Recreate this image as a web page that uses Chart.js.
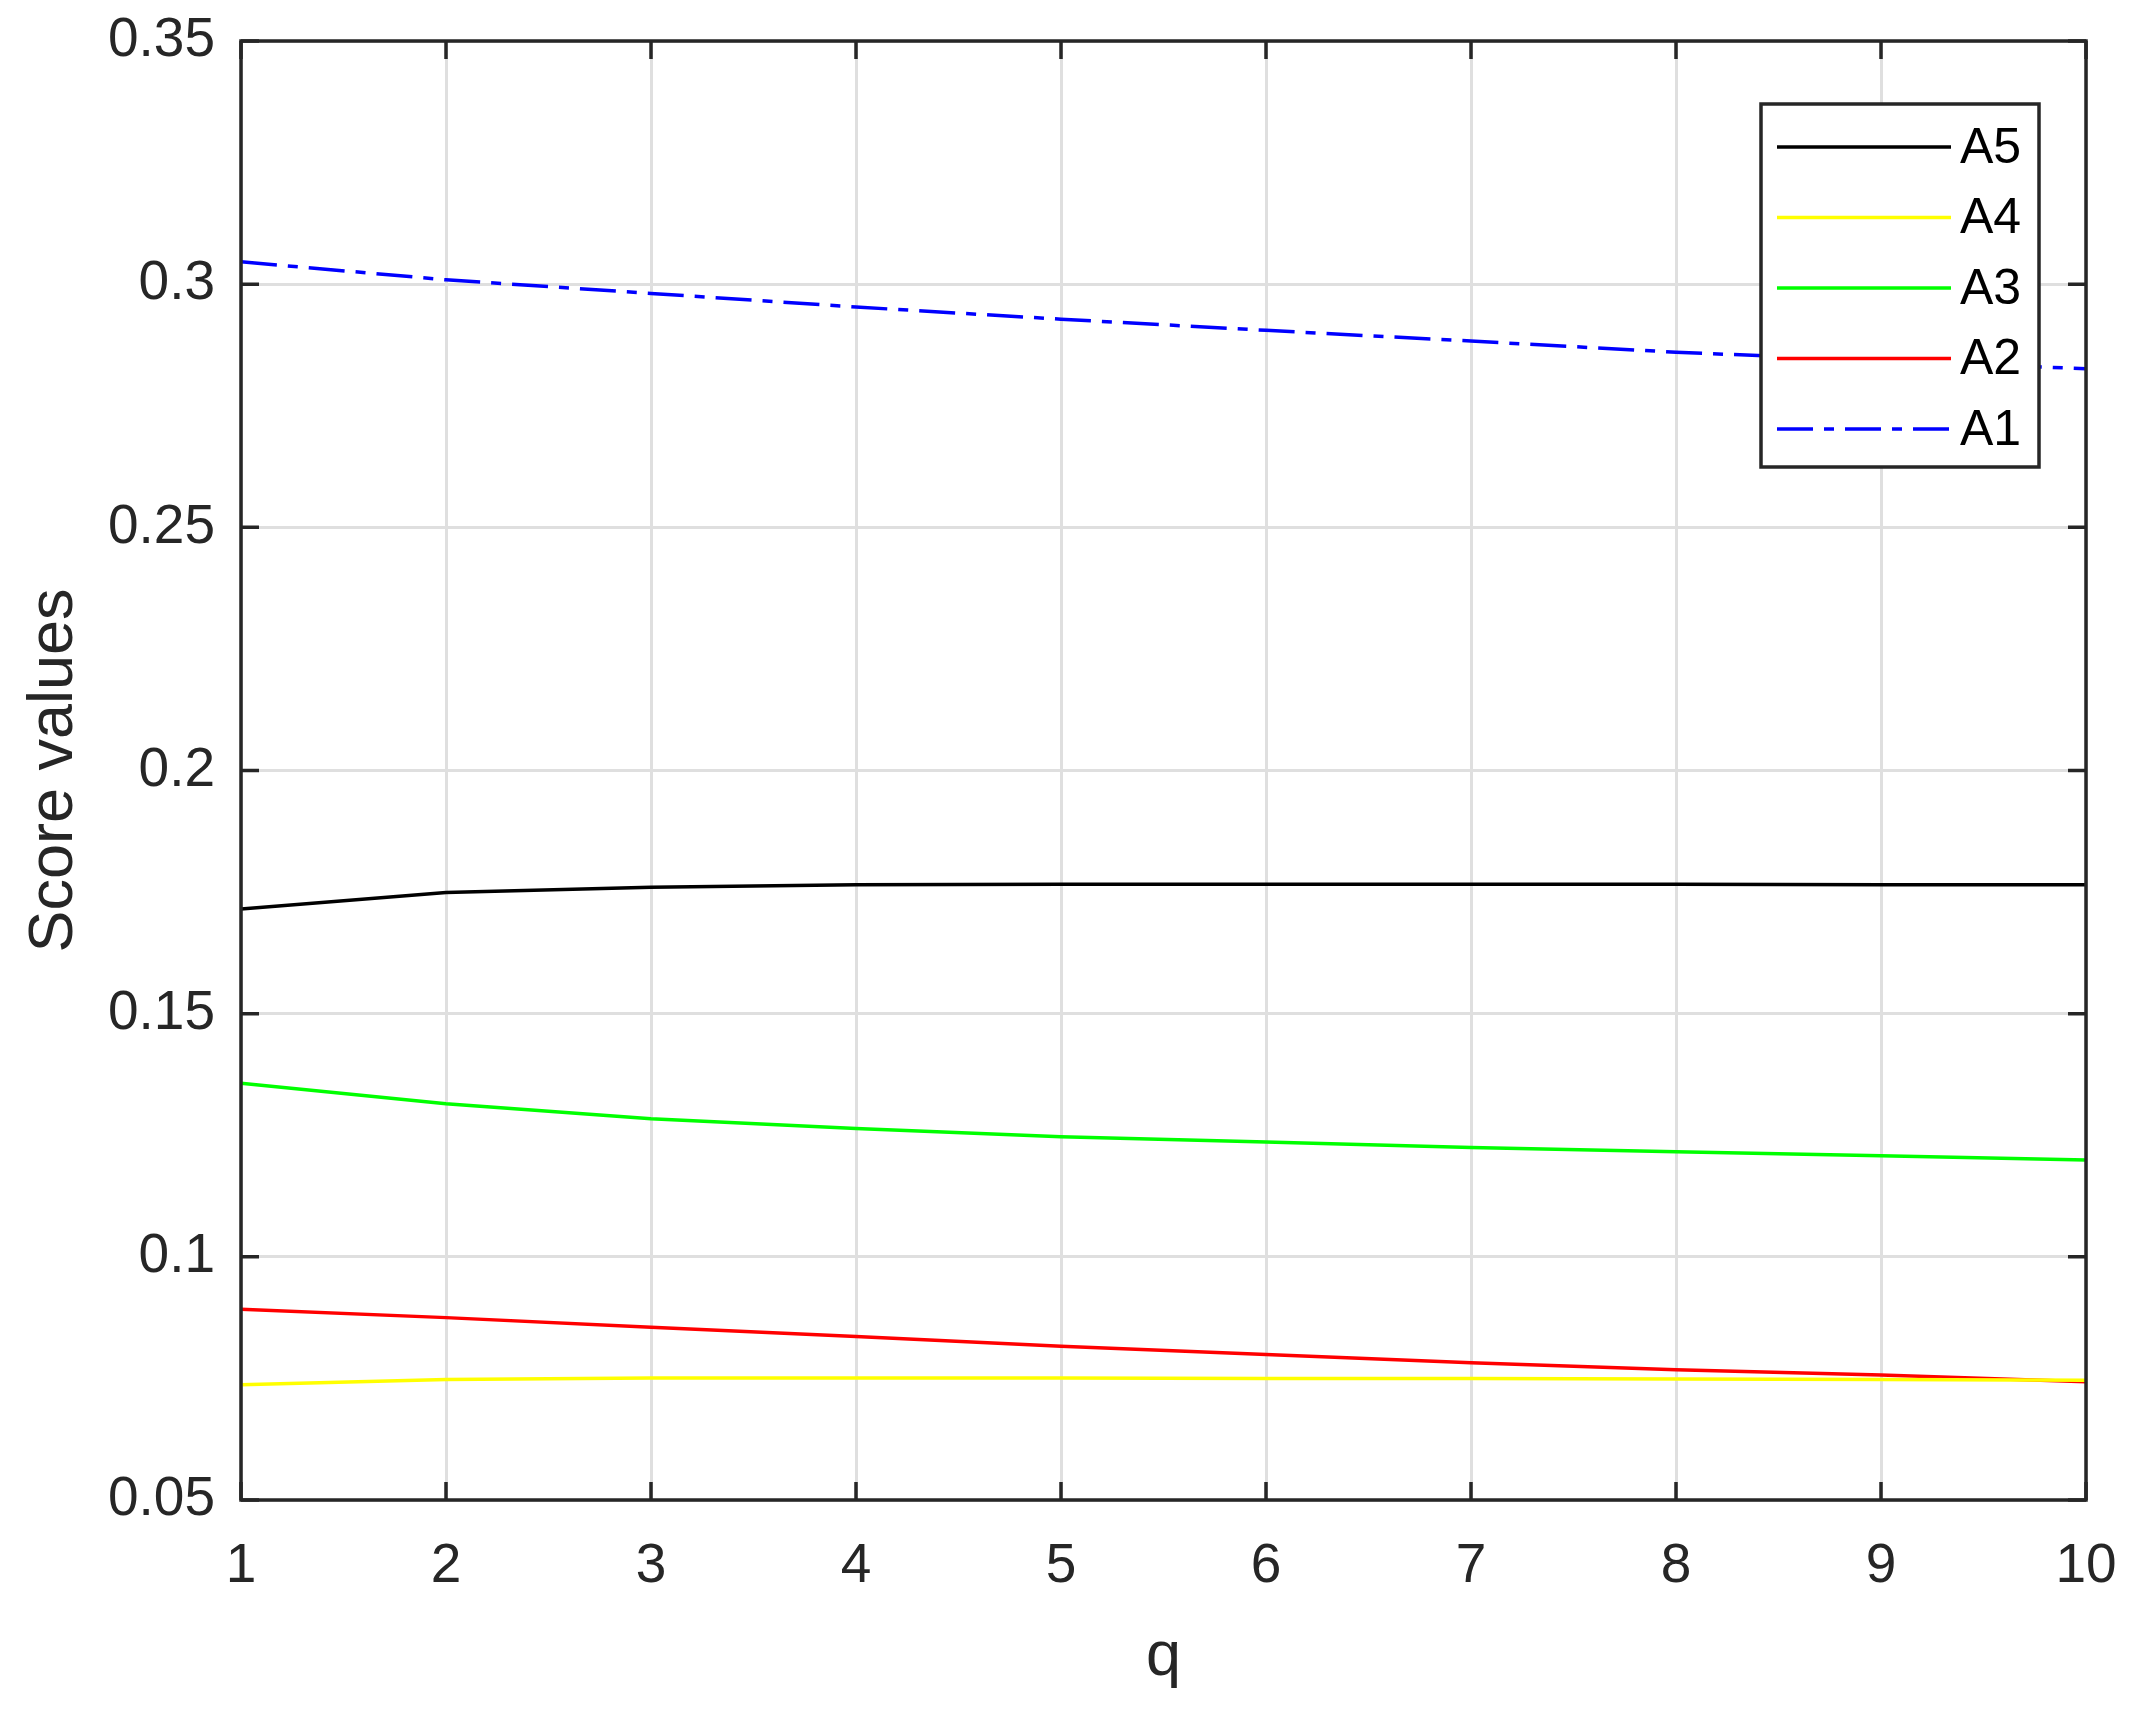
<!DOCTYPE html>
<html><head><meta charset="utf-8">
<script src="https://cdn.jsdelivr.net/npm/chart.js@4.4.1/dist/chart.umd.min.js"></script>
<style>html,body{margin:0;padding:0;background:#fff;} #wrap{width:2150px;height:1710px;}</style>
</head><body><div id="wrap"><canvas id="c" width="2150" height="1710"></canvas></div>
<script>
const qValues = [1, 2, 3, 4, 5, 6, 7, 8, 9, 10];
const seriesA5 = [0.1715, 0.1749, 0.1760, 0.1765, 0.1766, 0.1766, 0.1766, 0.1766, 0.1765, 0.1765];
const seriesA4 = [0.0737, 0.0748, 0.0751, 0.0751, 0.0751, 0.0750, 0.0750, 0.0749, 0.0748, 0.0746];
const seriesA3 = [0.1357, 0.1315, 0.1284, 0.1264, 0.1247, 0.1236, 0.1225, 0.1216, 0.1208, 0.1199];
const seriesA2 = [0.0892, 0.0875, 0.0855, 0.0836, 0.0816, 0.0799, 0.0782, 0.0768, 0.0757, 0.0743];
const seriesA1 = [0.3046, 0.3009, 0.2981, 0.2953, 0.2928, 0.2905, 0.2883, 0.2860, 0.2843, 0.2826];
const seriesNames = ['A5', 'A4', 'A3', 'A2', 'A1'];
const yTickValues = [0.05, 0.1, 0.15, 0.2, 0.25, 0.3, 0.35];
const xTickValues = [1, 2, 3, 4, 5, 6, 7, 8, 9, 10];
const xTitle = 'q';
const yTitle = 'Score values';

const FONT = "'Liberation Sans', Arial, Helvetica, sans-serif";
const AX = '#262626';
const toPts = arr => arr.map((v, i) => ({x: qValues[i], y: v}));

const styles = {
  A5: {color: '#000000', dash: []},
  A4: {color: '#ffff00', dash: []},
  A3: {color: '#00ff00', dash: []},
  A2: {color: '#ff0000', dash: []},
  A1: {color: '#0000ff', dash: [36, 11, 10, 11]}
};
const seriesData = {A5: seriesA5, A4: seriesA4, A3: seriesA3, A2: seriesA2, A1: seriesA1};

const datasets = seriesNames.map(n => ({
  label: n,
  data: toPts(seriesData[n]),
  borderColor: styles[n].color,
  backgroundColor: styles[n].color,
  borderDash: styles[n].dash,
  borderWidth: 3.5,
  pointRadius: 0,
  tension: 0,
  fill: false
}));

const boxPlugin = {
  id: 'matlabBox',
  afterDatasetsDraw(chart) {
    const {ctx, chartArea: a, scales: {x, y}} = chart;
    ctx.save();
    ctx.strokeStyle = AX;
    ctx.lineWidth = 3.5;
    ctx.setLineDash([]);
    ctx.beginPath();
    const tl = 18;
    x.ticks.forEach(t => {
      const px = x.getPixelForValue(t.value);
      ctx.moveTo(px, a.bottom); ctx.lineTo(px, a.bottom - tl);
      ctx.moveTo(px, a.top); ctx.lineTo(px, a.top + tl);
    });
    y.ticks.forEach(t => {
      const py = y.getPixelForValue(t.value);
      ctx.moveTo(a.left, py); ctx.lineTo(a.left + tl, py);
      ctx.moveTo(a.right, py); ctx.lineTo(a.right - tl, py);
    });
    ctx.stroke();
    ctx.strokeRect(a.left, a.top, a.right - a.left, a.bottom - a.top);

    // legend box (inside the axes, top-right)
    const L = {left: 1761, top: 104, right: 2039, bottom: 467};
    ctx.fillStyle = '#ffffff';
    ctx.fillRect(L.left, L.top, L.right - L.left, L.bottom - L.top);
    ctx.lineWidth = 3.5;
    ctx.strokeStyle = AX;
    ctx.strokeRect(L.left, L.top, L.right - L.left, L.bottom - L.top);
    ctx.font = '50px ' + FONT;
    ctx.textBaseline = 'middle';
    ctx.textAlign = 'left';
    chart.data.datasets.forEach((ds, i) => {
      const yy = 147 + i * 70.5;
      ctx.beginPath();
      ctx.strokeStyle = ds.borderColor;
      ctx.lineWidth = 3.5;
      ctx.setLineDash(ds.borderDash || []);
      ctx.moveTo(1777, yy); ctx.lineTo(1951, yy);
      ctx.stroke();
      ctx.setLineDash([]);
      ctx.fillStyle = '#000000';
      ctx.fillText(ds.label, 1960, yy + 2);
    });
    ctx.restore();
  }
};

const fmt = v => String(Number(Number(v).toFixed(4)));

new Chart(document.getElementById('c'), {
  type: 'line',
  data: {datasets},
  plugins: [boxPlugin],
  options: {
    responsive: false,
    animation: false,
    devicePixelRatio: 1,
    layout: {padding: {left: 0, top: 41, right: 64, bottom: 0}},
    plugins: {legend: {display: false}, tooltip: {enabled: false}},
    scales: {
      x: {
        type: 'linear',
        min: 1, max: 10,
        afterBuildTicks: s => { s.ticks = xTickValues.map(v => ({value: v})); },
        afterFit: s => { s.height = 210; s.paddingLeft = 0; s.paddingRight = 0; },
        grid: {color: 'rgb(223,223,223)', lineWidth: 3, drawTicks: false},
        border: {display: false},
        ticks: {color: AX, font: {family: FONT, size: 55}, padding: 34, maxRotation: 0, autoSkip: false, callback: v => fmt(v)},
        title: {display: true, text: xTitle, color: AX, font: {family: FONT, size: 63, lineHeight: 1.2}, padding: {top: 0, bottom: 15}}
      },
      y: {
        type: 'linear',
        min: 0.05, max: 0.35,
        afterBuildTicks: s => { s.ticks = yTickValues.map(v => ({value: v})); },
        afterFit: s => { s.width = 241; s.paddingTop = 0; s.paddingBottom = 0; },
        grid: {color: 'rgb(223,223,223)', lineWidth: 3, drawTicks: false},
        border: {display: false},
        ticks: {color: AX, font: {family: FONT, size: 55}, padding: 26, autoSkip: false, callback: v => fmt(v)},
        title: {display: true, text: yTitle, color: AX, font: {family: FONT, size: 63, lineHeight: 1.2}, padding: {top: 17, bottom: 0}}
      }
    }
  }
});
</script>
</body></html>
